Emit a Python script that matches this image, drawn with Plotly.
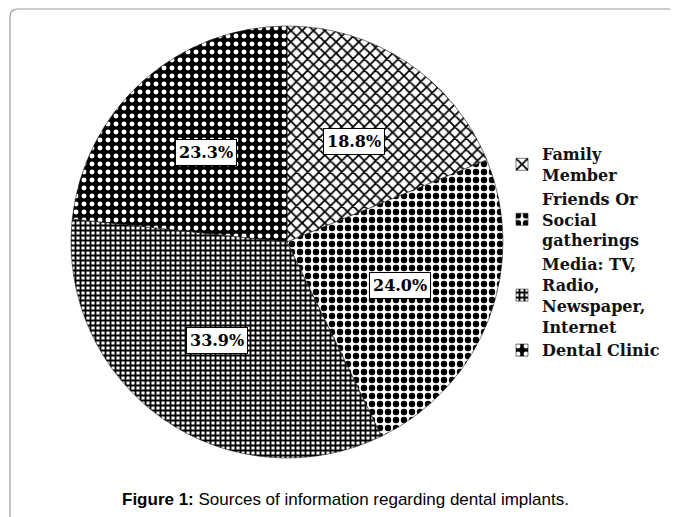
import math
import plotly.graph_objects as go

categories = ["Family<br>Member", "Friends Or<br>Social<br>gatherings",
              "Media: TV,<br>Radio,<br>Newspaper,<br>Internet", "Dental Clinic"]
values = [18.8, 24.0, 33.9, 23.3]
value_labels = ["18.8%", "24.0%", "33.9%", "23.3%"]

OFF = 8                      # browser body margin
W, H = 678 - OFF, 517 - OFF


def fx(px):
    return (px - OFF) / W


def fy(py):
    return 1 - (py - OFF) / H


cx, cy, R = 287, 242, 216  # pie centre / radius in page pixels

patterns = [
    dict(shape="x", fgcolor="black", bgcolor="white", size=8, solidity=0.4),
    dict(shape=".", fgcolor="black", bgcolor="white", size=8, solidity=0.5),
    dict(shape="+", fgcolor="black", bgcolor="white", size=5, solidity=0.6),
    dict(shape=".", fgcolor="white", bgcolor="black", size=8, solidity=0.3),
]

fig = go.Figure()
fig.add_trace(go.Pie(
    labels=["<b>" + c + "</b>" for c in categories],
    values=values,
    sort=False,
    direction="clockwise",
    rotation=0,
    textinfo="none",
    hoverinfo="label+percent",
    marker=dict(
        colors=["white", "white", "white", "black"],
        pattern=dict(
            shape=[p["shape"] for p in patterns],
            fgcolor=[p["fgcolor"] for p in patterns],
            bgcolor=[p["bgcolor"] for p in patterns],
            size=[p["size"] for p in patterns],
            solidity=[p["solidity"] for p in patterns],
        ),
        line=dict(width=0.6, color="#222"),
    ),
    domain=dict(x=[fx(cx - R), fx(cx + R)], y=[fy(cy + R), fy(cy - R)]),
))

# boxed value labels placed at each slice's mid-angle
annotations = []
total = sum(values)
cum = 0
for v, lab in zip(values, value_labels):
    mid = (cum + v / 2) / total * 2 * math.pi
    cum += v
    px = cx + 0.56 * R * math.sin(mid)
    py = cy - 0.56 * R * math.cos(mid)
    annotations.append(dict(
        x=fx(px), y=fy(py), xref="paper", yref="paper", showarrow=False,
        xanchor="center", yanchor="middle",
        text="<b>" + lab + "</b>",
        font=dict(family="DejaVu Serif", size=16, color="black"),
        bgcolor="white", bordercolor="black", borderwidth=1, borderpad=3,
    ))

annotations.append(dict(
    x=fx(345), y=fy(499), xref="paper", yref="paper", showarrow=False,
    xanchor="center", yanchor="middle",
    text="<b>Figure 1:</b> Sources of information regarding dental implants.",
    font=dict(family="Liberation Sans", size=17, color="black"),
))

# rounded frame
x0, y0, r = fx(10), fy(9), 8
rx, ry = r / W, r / H
frame_path = f"M {x0} -0.05 L {x0} {y0 - ry} Q {x0} {y0} {x0 + rx} {y0} L 1.05 {y0}"

fig.update_layout(
    width=W, height=H,
    margin=dict(l=0, r=0, t=0, b=0),
    paper_bgcolor="white",
    plot_bgcolor="white",
    showlegend=True,
    legend=dict(
        x=fx(502), y=fy(137), xanchor="left", yanchor="top",
        font=dict(family="DejaVu Serif", size=16, color="#111"),
        bgcolor="rgba(0,0,0,0)", itemwidth=30, tracegroupgap=0,
        valign="middle",
    ),
    annotations=annotations,
    shapes=[dict(type="path", path=frame_path, xref="paper", yref="paper",
                 line=dict(color="#9a9a9a", width=1.2))],
)

fig.write_html("out.html")
